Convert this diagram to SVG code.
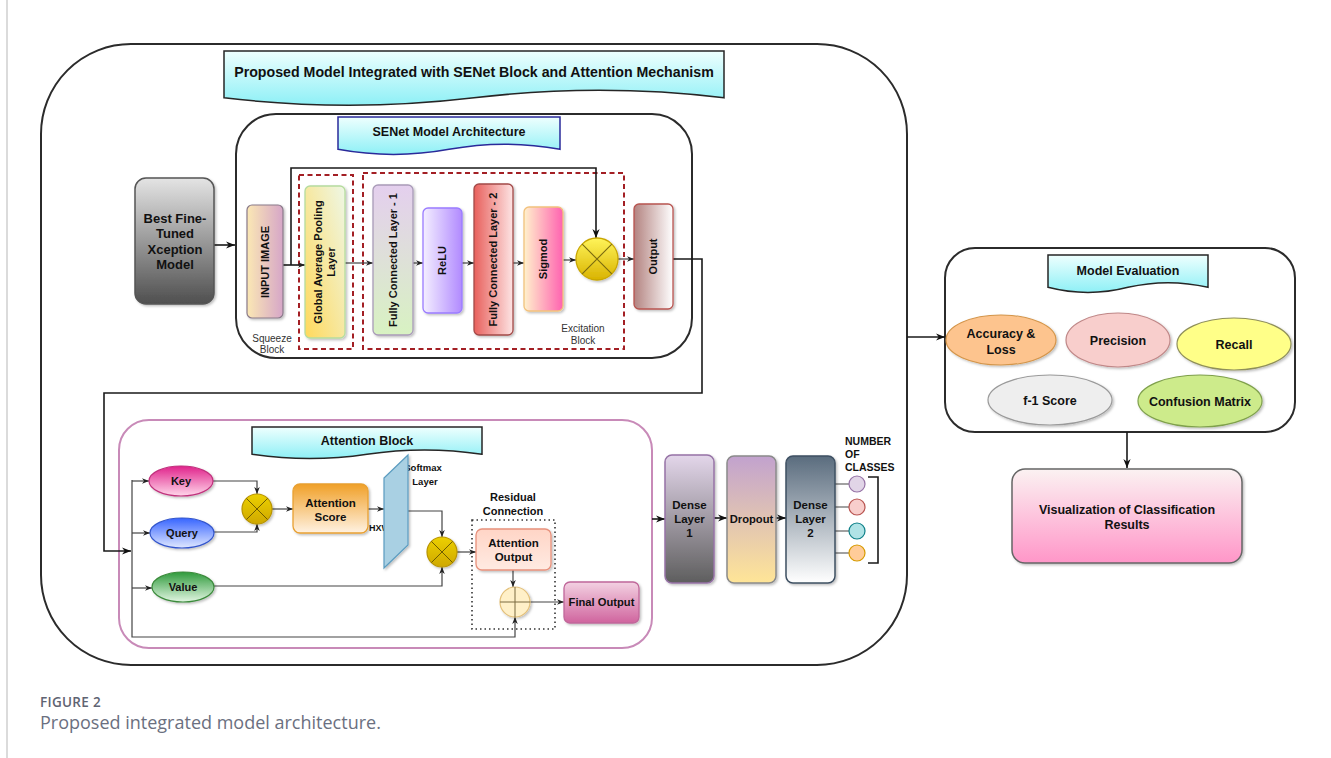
<svg xmlns="http://www.w3.org/2000/svg" width="1331" height="758" viewBox="0 0 1331 758">
  <defs>
    <style>
      .t{font-family:"Liberation Sans",Arial,Helvetica,sans-serif;font-weight:bold;fill:#111;text-anchor:middle}
      .s{font-family:"Liberation Sans",Arial,Helvetica,sans-serif;fill:#333;text-anchor:middle}
      .ln{fill:none;stroke:#1a1a1a;stroke-width:1.6}
      .lt{fill:none;stroke:#444;stroke-width:1.2}
      .ban{fill:url(#gBan);stroke:#262626;stroke-width:1.5}
      .frame{fill:none;stroke:#2b2b2b;stroke-width:2}
    </style>
    <marker id="ah" viewBox="0 0 10 10" refX="10" refY="5" markerWidth="9" markerHeight="9" markerUnits="userSpaceOnUse" orient="auto">
      <path d="M0,1 L10,5 L0,9 L3,5 z" fill="#111"/>
    </marker>
    <marker id="as" viewBox="0 0 10 10" refX="10" refY="5" markerWidth="7" markerHeight="7" markerUnits="userSpaceOnUse" orient="auto">
      <path d="M0,1 L10,5 L0,9 L3,5 z" fill="#222"/>
    </marker>
    <filter id="sh" x="-20%" y="-20%" width="140%" height="140%">
      <feDropShadow dx="1.5" dy="1.5" stdDeviation="1.2" flood-color="#000" flood-opacity="0.25"/>
    </filter>
    <linearGradient id="gBan" x1="0" y1="0" x2="0" y2="1"><stop offset="0" stop-color="#eefffe"/><stop offset="1" stop-color="#8ef0f6"/></linearGradient>
    <linearGradient id="gBest" x1="0" y1="0" x2="0" y2="1"><stop offset="0" stop-color="#e4e4e4"/><stop offset="1" stop-color="#4f4f4f"/></linearGradient>
    <linearGradient id="gIn" x1="0" y1="0" x2="1" y2="0"><stop offset="0" stop-color="#fbe8b4"/><stop offset="1" stop-color="#d6a6c8"/></linearGradient>
    <linearGradient id="gGap" x1="0" y1="1" x2="1" y2="0"><stop offset="0" stop-color="#ffd95c"/><stop offset="1" stop-color="#eef7e6"/></linearGradient>
    <linearGradient id="gFc1" x1="0" y1="0" x2="0" y2="1"><stop offset="0" stop-color="#e4cfee"/><stop offset="1" stop-color="#d8f2c2"/></linearGradient>
    <linearGradient id="gRelu" x1="0" y1="0" x2="1" y2="0"><stop offset="0" stop-color="#f4efff"/><stop offset="1" stop-color="#b18aff"/></linearGradient>
    <linearGradient id="gFc2" x1="0" y1="0" x2="1" y2="0"><stop offset="0" stop-color="#e8605c"/><stop offset="1" stop-color="#fde4e4"/></linearGradient>
    <linearGradient id="gSig" x1="0" y1="0" x2="1" y2="0"><stop offset="0" stop-color="#fff2cc"/><stop offset="1" stop-color="#ff62b0"/></linearGradient>
    <linearGradient id="gMul" x1="0" y1="0" x2="0" y2="1"><stop offset="0" stop-color="#fff45a"/><stop offset="1" stop-color="#d9b300"/></linearGradient>
    <linearGradient id="gMul2" x1="0" y1="0" x2="0" y2="1"><stop offset="0" stop-color="#ecd000"/><stop offset="1" stop-color="#cfa800"/></linearGradient>
    <linearGradient id="gOut" x1="0" y1="0" x2="1" y2="0"><stop offset="0" stop-color="#b38380"/><stop offset="1" stop-color="#ffffff"/></linearGradient>
    <linearGradient id="gKey" x1="0" y1="0" x2="0" y2="1"><stop offset="0" stop-color="#e0238b"/><stop offset="1" stop-color="#ffd6ea"/></linearGradient>
    <linearGradient id="gQuery" x1="0" y1="0" x2="0" y2="1"><stop offset="0" stop-color="#3764ff"/><stop offset="1" stop-color="#e0e8ff"/></linearGradient>
    <linearGradient id="gValue" x1="0" y1="0" x2="0" y2="1"><stop offset="0" stop-color="#2f9a3c"/><stop offset="1" stop-color="#e2f6e2"/></linearGradient>
    <linearGradient id="gScore" x1="0" y1="0" x2="0" y2="1"><stop offset="0" stop-color="#f0a028"/><stop offset="1" stop-color="#fff2e2"/></linearGradient>
    <linearGradient id="gAo" x1="0" y1="0" x2="0" y2="1"><stop offset="0" stop-color="#ffd5c6"/><stop offset="1" stop-color="#ffeae2"/></linearGradient>
    <linearGradient id="gFin" x1="0" y1="0" x2="0" y2="1"><stop offset="0" stop-color="#f3d2e2"/><stop offset="1" stop-color="#d0649e"/></linearGradient>
    <linearGradient id="gD1" x1="0" y1="0" x2="0" y2="1"><stop offset="0" stop-color="#e3d6ea"/><stop offset="1" stop-color="#5e5e5e"/></linearGradient>
    <linearGradient id="gDrop" x1="0" y1="0" x2="0" y2="1"><stop offset="0" stop-color="#c2a2ce"/><stop offset="1" stop-color="#ffe597"/></linearGradient>
    <linearGradient id="gD2" x1="0" y1="0" x2="0" y2="1"><stop offset="0" stop-color="#5a6c7e"/><stop offset="1" stop-color="#ffffff"/></linearGradient>
    <linearGradient id="gVis" x1="0" y1="0" x2="0" y2="1"><stop offset="0" stop-color="#fbf2f2"/><stop offset="1" stop-color="#ff96c8"/></linearGradient>
  </defs>

  <rect width="1331" height="758" fill="#ffffff"/>
  <!-- page margin rule -->
  <line x1="7" y1="0" x2="7" y2="758" stroke="#cfcfcf" stroke-width="1.5"/>

  <!-- containers -->
  <g id="outer-frame">
    <rect x="41" y="44" width="866" height="621" rx="90" class="frame"/>
    <path class="ban" d="M224,51 H724 V97.8 Q599,82.9 474,97.8 Q349,112.6 224,97.8 Z"/>
    <text class="t" x="474" y="77" font-size="14.2">Proposed Model Integrated with SENet Block and Attention Mechanism</text>
  </g>

  <g id="senet-container">
    <rect x="236" y="114" width="456" height="244" rx="40" class="frame"/>
    <path d="M338,117 H560 V149.3 Q504.5,139 449,149.3 Q393.5,159.6 338,149.3 Z" fill="url(#gBan)" stroke="#2a2a9a" stroke-width="1.5"/>
    <text class="t" x="449" y="135.5" font-size="12.5">SENet Model Architecture</text>
    <rect x="299" y="175" width="54" height="174" fill="none" stroke="#a31f24" stroke-width="2" stroke-dasharray="5 3.5"/>
    <rect x="363" y="173" width="261" height="176" fill="none" stroke="#a31f24" stroke-width="2" stroke-dasharray="5 3.5"/>
    <text class="s" x="272" y="341.5" font-size="10">Squeeze</text>
    <text class="s" x="272" y="353" font-size="10">Block</text>
    <text class="s" x="583" y="331.5" font-size="10">Excitation</text>
    <text class="s" x="583" y="343.5" font-size="10">Block</text>
  </g>

  <g id="attention-container">
    <rect x="119" y="420" width="533" height="228" rx="30" fill="none" stroke="#c88ab8" stroke-width="2"/>
    <path class="ban" d="M252,427 H482 V454.2 Q424.5,445.6 367,454.2 Q309.5,462.8 252,454.2 Z"/>
    <text class="t" x="367" y="444.5" font-size="12.5">Attention Block</text>
    <rect x="472" y="520" width="83" height="109" fill="none" stroke="#333" stroke-width="1.6" stroke-dasharray="1.5 3"/>
    <text class="t" x="513" y="501" font-size="11">Residual</text>
    <text class="t" x="513" y="515" font-size="11">Connection</text>
  </g>

  <g id="evaluation-container">
    <rect x="945" y="248" width="350" height="184" rx="30" class="frame"/>
    <path class="ban" d="M1048,255 H1208 V287.3 Q1168,278 1128,287.3 Q1088,297.6 1048,287.3 Z"/>
    <text class="t" x="1128" y="274.5" font-size="12.5">Model Evaluation</text>
  </g>

  <!-- connectors -->
  <g id="connectors">
    <path class="ln" d="M214,245 H235" marker-end="url(#ah)"/>
    <path class="ln" d="M283,265 H305" marker-end="url(#as)"/>
    <path class="ln" d="M291,265 V168 H596 V238" marker-end="url(#ah)"/>
    <path class="lt" d="M345,263 H373" marker-end="url(#as)"/>
    <path class="lt" d="M413,263 H423" marker-end="url(#as)"/>
    <path class="lt" d="M462,263 H474" marker-end="url(#as)"/>
    <path class="lt" d="M513,263 H524" marker-end="url(#as)"/>
    <path class="lt" d="M563,260 H576" marker-end="url(#as)"/>
    <path class="lt" d="M618,259 H634" marker-end="url(#as)"/>
    <path class="ln" d="M673,259 H702 V393 H104 V551 H131" marker-end="url(#ah)"/>

    <path class="lt" d="M132,480 V637 H515 V617" marker-end="url(#as)"/>
    <path class="lt" d="M132,481 H149" marker-end="url(#as)"/>
    <path class="lt" d="M132,533 H150" marker-end="url(#as)"/>
    <path class="lt" d="M132,588 H152" marker-end="url(#as)"/>
    <path class="lt" d="M213,481 H257 V494" marker-end="url(#as)"/>
    <path class="lt" d="M214,532 H257 V524" marker-end="url(#as)"/>
    <path class="lt" d="M272,509 H293" marker-end="url(#as)"/>
    <path class="lt" d="M368,509 H384" marker-end="url(#as)"/>
    <path class="lt" d="M408,511 H442 V537" marker-end="url(#as)"/>
    <path class="lt" d="M214,586 H442 V567" marker-end="url(#as)"/>
    <path class="lt" d="M457,552 H476" marker-end="url(#as)"/>
    <path class="lt" d="M513,570 V587" marker-end="url(#as)"/>
    <path class="lt" d="M530,602 H564" marker-end="url(#as)"/>

    <path class="ln" d="M652,519 H665" marker-end="url(#ah)"/>
    <path class="ln" d="M714,518 H727" marker-end="url(#ah)"/>
    <path class="ln" d="M776,518 H786" marker-end="url(#ah)"/>
    <path class="lt" d="M835,484 H849 M835,507 H849 M835,531 H849 M835,553 H849"/>
    <path class="ln" d="M868,477 H878 V563 H868"/>

    <path class="ln" d="M907,337 H945" marker-end="url(#ah)"/>
    <path class="ln" d="M1127,432 V468" marker-end="url(#ah)"/>
  </g>

  <!-- SENet nodes -->
  <g id="best-xception">
    <rect x="135" y="178" width="79" height="126" rx="11" fill="url(#gBest)" stroke="#555" stroke-width="1.5" filter="url(#sh)"/>
    <text class="t" x="175" y="222.5" font-size="13">Best Fine-</text>
    <text class="t" x="175" y="238" font-size="13">Tuned</text>
    <text class="t" x="175" y="253.5" font-size="13">Xception</text>
    <text class="t" x="175" y="269" font-size="13">Model</text>
  </g>
  <g id="input-image">
    <rect x="247" y="205" width="36" height="113" rx="5" fill="url(#gIn)" stroke="#8a7a8a" stroke-width="1.2" filter="url(#sh)"/>
    <text class="t" x="265" y="265.9" font-size="11" transform="rotate(-90 265 262)">INPUT IMAGE</text>
  </g>
  <g id="global-avg-pool">
    <rect x="305" y="186" width="40" height="152" rx="5" fill="url(#gGap)" stroke="#b5dc9e" stroke-width="1.3" filter="url(#sh)"/>
    <g transform="rotate(-90 325 262)">
      <text class="t" x="325" y="258.9" font-size="11">Global Average Pooling</text>
      <text class="t" x="325" y="272.4" font-size="11">Layer</text>
    </g>
  </g>
  <g id="fc-layer-1">
    <rect x="373" y="185" width="40" height="150" rx="5" fill="url(#gFc1)" stroke="#a99bb8" stroke-width="1.3" filter="url(#sh)"/>
    <text class="t" x="393" y="263.9" font-size="11" transform="rotate(-90 393 260)">Fully Connected Layer - 1</text>
  </g>
  <g id="relu">
    <rect x="423" y="208" width="39" height="105" rx="5" fill="url(#gRelu)" stroke="#9a7cff" stroke-width="1.3" filter="url(#sh)"/>
    <text class="t" x="442.5" y="264.4" font-size="11" transform="rotate(-90 442.5 260.5)">ReLU</text>
  </g>
  <g id="fc-layer-2">
    <rect x="474" y="184" width="39" height="151" rx="5" fill="url(#gFc2)" stroke="#a34a48" stroke-width="1.3" filter="url(#sh)"/>
    <text class="t" x="493.5" y="263.4" font-size="11" transform="rotate(-90 493.5 259.5)">Fully Connected Layer - 2</text>
  </g>
  <g id="sigmoid">
    <rect x="524" y="207" width="39" height="104" rx="5" fill="url(#gSig)" stroke="#f2c27e" stroke-width="1.3" filter="url(#sh)"/>
    <text class="t" x="543.5" y="262.9" font-size="11" transform="rotate(-90 543.5 259)">Sigmod</text>
  </g>
  <g id="scale-multiply">
    <circle cx="597" cy="259" r="21" fill="url(#gMul)" stroke="#c9a600" stroke-width="1.3" filter="url(#sh)"/>
    <path d="M582.2,244.2 L611.8,273.8 M611.8,244.2 L582.2,273.8" stroke="#7a6a10" stroke-width="1.1"/>
  </g>
  <g id="senet-output">
    <rect x="634" y="204" width="39" height="105" rx="5" fill="url(#gOut)" stroke="#b85450" stroke-width="1.3" filter="url(#sh)"/>
    <text class="t" x="653.5" y="260.4" font-size="11" transform="rotate(-90 653.5 256.5)">Output</text>
  </g>

  <!-- attention nodes -->
  <g id="key">
    <ellipse cx="181" cy="481" rx="32" ry="15" fill="url(#gKey)" stroke="#c0307c" stroke-width="1.2" filter="url(#sh)"/>
    <text class="t" x="181" y="485" font-size="11">Key</text>
  </g>
  <g id="query">
    <ellipse cx="182" cy="533" rx="32" ry="15" fill="url(#gQuery)" stroke="#3355cc" stroke-width="1.2" filter="url(#sh)"/>
    <text class="t" x="182" y="537" font-size="11">Query</text>
  </g>
  <g id="value">
    <ellipse cx="183" cy="587" rx="31" ry="15" fill="url(#gValue)" stroke="#3a8a3a" stroke-width="1.2" filter="url(#sh)"/>
    <text class="t" x="183" y="591" font-size="11">Value</text>
  </g>
  <g id="qk-multiply">
    <circle cx="257" cy="509" r="15" fill="url(#gMul2)" stroke="#b89400" stroke-width="1.2" filter="url(#sh)"/>
    <path d="M246.4,498.4 L267.6,519.6 M267.6,498.4 L246.4,519.6" stroke="#6e5c00" stroke-width="1"/>
  </g>
  <g id="attention-score">
    <rect x="293" y="484" width="75" height="49" rx="7" fill="url(#gScore)" stroke="#e8a032" stroke-width="1.3" filter="url(#sh)"/>
    <text class="t" x="330.5" y="507" font-size="11.5">Attention</text>
    <text class="t" x="330.5" y="521" font-size="11.5">Score</text>
  </g>
  <g id="softmax">
    <text class="t" x="369" y="531" font-size="9" style="text-anchor:start">HXW</text>
    <text class="t" x="423" y="471" font-size="9.5" fill="#333">Softmax</text>
    <text class="t" x="425" y="484.5" font-size="9.5" fill="#333">Layer</text>
    <path d="M384,478 L408,455 L408,545 L384,568 Z" fill="#a9d0e3" stroke="#5b9cc0" stroke-width="1.2" filter="url(#sh)"/>
  </g>
  <g id="av-multiply">
    <circle cx="442" cy="552" r="15" fill="url(#gMul2)" stroke="#b89400" stroke-width="1.2" filter="url(#sh)"/>
    <path d="M431.4,541.4 L452.6,562.6 M452.6,541.4 L431.4,562.6" stroke="#6e5c00" stroke-width="1"/>
  </g>
  <g id="attention-output">
    <rect x="476" y="529" width="75" height="41" rx="6" fill="url(#gAo)" stroke="#e8917c" stroke-width="1.3" filter="url(#sh)"/>
    <text class="t" x="513.5" y="547" font-size="11.5">Attention</text>
    <text class="t" x="513.5" y="560.5" font-size="11.5">Output</text>
  </g>
  <g id="residual-add">
    <circle cx="515" cy="602" r="15" fill="#fff0c8" stroke="#e3c07a" stroke-width="1.2" filter="url(#sh)"/>
    <path d="M500,602 H530 M515,587 V617" stroke="#7a6a40" stroke-width="1"/>
  </g>
  <g id="final-output">
    <rect x="564" y="582" width="75" height="41" rx="6" fill="url(#gFin)" stroke="#c0679a" stroke-width="1.3" filter="url(#sh)"/>
    <text class="t" x="601.5" y="606" font-size="11.2">Final Output</text>
  </g>

  <!-- classifier head -->
  <g id="dense-layer-1">
    <rect x="665" y="455" width="49" height="128" rx="7" fill="url(#gD1)" stroke="#9673a6" stroke-width="1.5" filter="url(#sh)"/>
    <text class="t" x="689.5" y="509" font-size="11.5">Dense</text>
    <text class="t" x="689.5" y="523" font-size="11.5">Layer</text>
    <text class="t" x="689.5" y="537" font-size="11.5">1</text>
  </g>
  <g id="dropout">
    <rect x="727" y="456" width="49" height="127" rx="7" fill="url(#gDrop)" stroke="#8a8a8a" stroke-width="1.5" filter="url(#sh)"/>
    <text class="t" x="751.5" y="523" font-size="11.2" fill="#555">Dropout</text>
  </g>
  <g id="dense-layer-2">
    <rect x="786" y="456" width="49" height="127" rx="7" fill="url(#gD2)" stroke="#3e5062" stroke-width="1.5" filter="url(#sh)"/>
    <text class="t" x="810.5" y="509" font-size="11.5">Dense</text>
    <text class="t" x="810.5" y="523" font-size="11.5">Layer</text>
    <text class="t" x="810.5" y="537" font-size="11.5">2</text>
  </g>
  <g id="classes">
    <circle cx="857" cy="484" r="8" fill="#e1d5e7" stroke="#9673a6" stroke-width="1.2"/>
    <circle cx="857" cy="507" r="8" fill="#f8cecc" stroke="#b85450" stroke-width="1.2"/>
    <circle cx="857" cy="531" r="8" fill="#b0e3e6" stroke="#0e8088" stroke-width="1.2"/>
    <circle cx="857" cy="553" r="8" fill="#ffcc99" stroke="#d79b00" stroke-width="1.2"/>
    <text class="t" x="845" y="445" font-size="10.5" style="text-anchor:start">NUMBER</text>
    <text class="t" x="845" y="458" font-size="10.5" style="text-anchor:start">OF</text>
    <text class="t" x="845" y="471" font-size="10.5" style="text-anchor:start">CLASSES</text>
  </g>

  <!-- evaluation nodes -->
  <g id="accuracy-loss">
    <ellipse cx="1001" cy="340" rx="55" ry="25" fill="#fdc48e" stroke="#d4954a" stroke-width="1.2" filter="url(#sh)"/>
    <text class="t" x="1001" y="337.5" font-size="12.5">Accuracy &amp;</text>
    <text class="t" x="1001" y="353.5" font-size="12.5">Loss</text>
  </g>
  <g id="precision">
    <ellipse cx="1118" cy="340" rx="52" ry="27" fill="#f8cecc" stroke="#c08888" stroke-width="1.2" filter="url(#sh)"/>
    <text class="t" x="1118" y="344.5" font-size="12.5">Precision</text>
  </g>
  <g id="recall">
    <ellipse cx="1234" cy="344" rx="57" ry="26" fill="#ffff88" stroke="#8f8f5a" stroke-width="1.2" filter="url(#sh)"/>
    <text class="t" x="1234" y="348.5" font-size="12.5">Recall</text>
  </g>
  <g id="f1-score">
    <ellipse cx="1050" cy="400" rx="62" ry="25" fill="#eeeeee" stroke="#9a9a9a" stroke-width="1.2" filter="url(#sh)"/>
    <text class="t" x="1050" y="404.5" font-size="12.5">f-1 Score</text>
  </g>
  <g id="confusion-matrix">
    <ellipse cx="1200" cy="401" rx="62" ry="26" fill="#cdeb8b" stroke="#7fa04c" stroke-width="1.2" filter="url(#sh)"/>
    <text class="t" x="1200" y="405.5" font-size="12.5">Confusion Matrix</text>
  </g>
  <g id="visualization">
    <rect x="1012" y="469" width="230" height="94" rx="13" fill="url(#gVis)" stroke="#666" stroke-width="1.5" filter="url(#sh)"/>
    <text class="t" x="1127" y="513.5" font-size="12.5">Visualization of Classification</text>
    <text class="t" x="1127" y="528.5" font-size="12.5">Results</text>
  </g>

  <!-- caption -->
  <g id="caption">
    <text x="40" y="707" font-family="'Open Sans','Noto Sans',sans-serif" font-weight="600" font-size="13.5" letter-spacing="0.3" fill="#5f6472">FIGURE 2</text>
    <text x="40" y="729" font-family="'Open Sans','Noto Sans',sans-serif" font-size="18" fill="#6b7080">Proposed integrated model architecture.</text>
  </g>
</svg>
